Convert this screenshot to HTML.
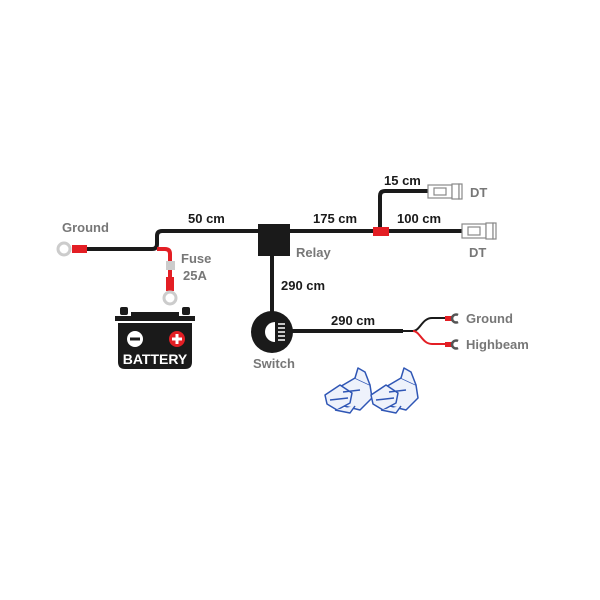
<!DOCTYPE html>
<html><head><style>
html,body{margin:0;padding:0;background:#fff;}
svg{display:block;}
text{font-family:"Liberation Sans",sans-serif;font-weight:bold;}
</style></head><body>
<svg width="600" height="600" viewBox="0 0 600 600">
<g fill="none" stroke="#1a1a1a" stroke-width="4">
<path d="M86 249 H152 Q157 249 157 244 V236 Q157 231 162 231 H462"/>
<path d="M272 256 V312"/>
<path d="M380 231 V196 Q380 191 385 191 H428"/>
<path d="M292 331 H403"/>
</g>
<path d="M403 331 H413 C420 331 422 318 432 318 H446" fill="none" stroke="#1a1a1a" stroke-width="2"/>
<path d="M413 331 C420 331 422 344 432 344 H446" fill="none" stroke="#e31e24" stroke-width="2"/>
<rect x="445" y="316" width="8" height="5" fill="#e31e24"/>
<rect x="445" y="342" width="8" height="5" fill="#e31e24"/>
<path d="M458 315 A4 4 0 1 0 458 322" fill="none" stroke="#555" stroke-width="2.5"/>
<path d="M458 341 A4 4 0 1 0 458 348" fill="none" stroke="#555" stroke-width="2.5"/>
<circle cx="64" cy="249" r="6" fill="#fff" stroke="#ccc" stroke-width="3"/>
<rect x="72" y="245" width="15" height="8" fill="#e31e24"/>
<path d="M157 249 H165 Q170 249 170 254 V262" fill="none" stroke="#e31e24" stroke-width="4"/>
<rect x="166" y="261" width="9" height="9" fill="#ccc"/>
<path d="M170 270 V277" stroke="#e31e24" stroke-width="4"/>
<rect x="166" y="277" width="8" height="14" fill="#e31e24"/>
<circle cx="170" cy="298" r="6" fill="#fff" stroke="#ccc" stroke-width="3"/>
<rect x="258" y="224" width="32" height="32" fill="#1a1a1a"/>
<rect x="373" y="227" width="16" height="9" fill="#e31e24"/>
<g fill="#fff" stroke="#888" stroke-width="1.2">
<rect x="428" y="185" width="24" height="13"/><rect x="452" y="184" width="7" height="15"/><rect x="459" y="184" width="3" height="15"/>
<rect x="434" y="188" width="12" height="7"/>
<rect x="462" y="224" width="24" height="14"/><rect x="486" y="223" width="7" height="16"/><rect x="493" y="223" width="3" height="16"/>
<rect x="468" y="227" width="12" height="8"/>
</g>
<rect x="120" y="307" width="8" height="8" rx="2" fill="#1a1a1a"/>
<rect x="182" y="307" width="8" height="8" rx="2" fill="#1a1a1a"/>
<rect x="131" y="312" width="48" height="4" fill="#1a1a1a"/>
<rect x="115" y="316" width="80" height="5" fill="#1a1a1a"/>
<path d="M118 323 H192 V362 Q192 369 185 369 H125 Q118 369 118 362 Z" fill="#1a1a1a"/>
<circle cx="135" cy="339" r="8" fill="#fff"/><rect x="130" y="337.5" width="10" height="3" fill="#1a1a1a"/>
<circle cx="177" cy="339" r="8" fill="#e31e24"/><rect x="172" y="337.5" width="10" height="3" fill="#fff"/><rect x="175.5" y="334" width="3" height="10" fill="#fff"/>
<text x="155" y="364" font-size="14" fill="#fff" text-anchor="middle">BATTERY</text>
<circle cx="272" cy="332" r="21" fill="#1a1a1a"/>
<path d="M275 322 A10 10 0 0 0 275 342 Z" fill="#fff"/>
<g stroke="#fff" stroke-width="1.5"><path d="M278 324 H285 M278 328 H285 M278 332 H285 M278 336 H285 M278 340 H285"/></g>
<g fill="#eef2fb" stroke="#2f56b5" stroke-width="1.5" stroke-linejoin="round">
<path d="M338 388 L355 378 L370 385 L372 398 L360 410 L340 405 Z"/>
<path d="M355 378 L358 368 L365 372 L370 385"/>
<path d="M325 395 L340 385 L352 393 L350 403 L337 410 L327 404 Z"/>
<path d="M335 410 L350 413 L355 406 M330 400 L348 398 M343 392 L360 390"/>
<path d="M384 388 L401 378 L416 385 L418 398 L406 410 L386 405 Z"/>
<path d="M401 378 L404 368 L411 372 L416 385"/>
<path d="M371 395 L386 385 L398 393 L396 403 L383 410 L373 404 Z"/>
<path d="M381 410 L396 413 L401 406 M376 400 L394 398 M389 392 L406 390"/>
</g>
<g font-size="13">
<text x="62" y="232" fill="#777">Ground</text>
<text x="188" y="223" fill="#1a1a1a">50 cm</text>
<text x="181" y="263" fill="#777">Fuse</text>
<text x="183" y="280" fill="#777">25A</text>
<text x="296" y="257" fill="#777">Relay</text>
<text x="281" y="290" fill="#1a1a1a">290 cm</text>
<text x="313" y="223" fill="#1a1a1a">175 cm</text>
<text x="384" y="185" fill="#1a1a1a">15 cm</text>
<text x="470" y="197" fill="#777">DT</text>
<text x="397" y="223" fill="#1a1a1a">100 cm</text>
<text x="469" y="257" fill="#777">DT</text>
<text x="331" y="325" fill="#1a1a1a">290 cm</text>
<text x="466" y="323" fill="#777">Ground</text>
<text x="466" y="349" fill="#777">Highbeam</text>
<text x="253" y="368" fill="#777">Switch</text>
</g>
</svg>
</body></html>
